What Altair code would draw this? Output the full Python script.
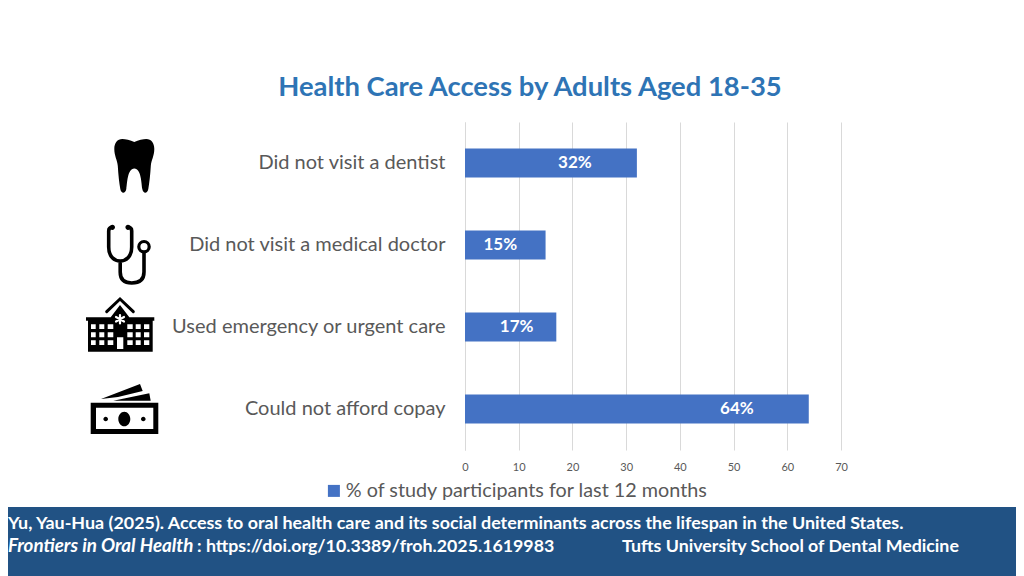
import altair as alt
import pandas as pd

# ---- data ----
categories = ["Did not visit a dentist", "Did not visit a medical doctor",
              "Used emergency or urgent care", "Could not afford copay"]
values = [32, 15, 17, 64]
value_labels = ["32%", "15%", "17%", "64%"]
series_name = "% of study participants for last 12 months"
x_ticks = [0, 10, 20, 30, 40, 50, 60, 70]
title_text = "Health Care Access by Adults Aged 18-35"
citation_line = "Yu, Yau-Hua (2025). Access to oral health care and its social determinants across the lifespan in the United States."
journal_text = "Frontiers in Oral Health"
doi_text = ": https://doi.org/10.3389/froh.2025.1619983"
school_text = "Tufts University School of Dental Medicine"

FONT = "Lato"
GREY = "#595959"
BLUE = "#4472C4"
TITLE_BLUE = "#2E74B5"
BAND = "#215284"

OX, OY = 465, 122   # plot origin on the page
W, H = 376, 328
SVG_W, SVG_H = 1008, 568

df = pd.DataFrame({"category": categories, "value": values,
                   "label": value_labels, "series": series_name})


def px(x):  # page px -> plot px
    return alt.value(x - OX)


def py(y):
    return alt.value(y - OY)


def rect(x0, x1, y0, y1):
    return f"M{x0},{y0}L{x1},{y0}L{x1},{y1}L{x0},{y1}Z"


def circle(cx, cy, r):
    return f"M{cx+r},{cy}A{r},{r} 0 1 0 {cx-r},{cy}A{r},{r} 0 1 0 {cx+r},{cy}Z"


def ellipse(cx, cy, rx, ry):
    return f"M{cx+rx},{cy}A{rx},{ry} 0 1 0 {cx-rx},{cy}A{rx},{ry} 0 1 0 {cx+rx},{cy}Z"


# Icon outlines, in px around the icon's centre
tooth = ("M0,-24C-4,-26 -9,-27 -12,-27C-17,-27 -20,-23 -20,-17C-20,-10 -17,-6 -16.5,0"
         "C-16,9 -15,17 -14,23C-13,28 -9,28 -8,23C-7,17 -7,3 0,2.5C7,3 7,17 8,23"
         "C9,28 13,28 14,23C15,17 16,9 16.5,0C17,-6 20,-10 20,-17C20,-23 17,-27 12,-27"
         "C9,-27 4,-26 0,-24Z")
steth_tube = ("M-14.3,-27.7Q-18,-27.7 -18,-24L-18,-8C-18,2 -12,6 -6.5,6C-1,6 5,2 5,-8"
              "L5,-24Q5,-27.7 1.3,-27.7M-6.5,6L-6.5,17C-6.5,25 -2,28 5,28C12,28 17.3,25 17.3,17L17.3,-2")
steth_head = circle(17.3, -8.3, 5.2)
steth_dots = circle(-14.3, -27.7, 2.6) + circle(1.3, -27.7, 2.6)
hospital_black = (rect(-32, 32.7, -6, 26.7) + rect(-34, 34.3, -7.7, -4.3)
                  + "M-9.3,-7.7L0,-20L9.3,-7.7Z")
hospital_roof = "M-13.3,-13.3L0,-26L13.3,-13.3"
win_x = [(-29, -24.3), (-20.7, -15.7), (-12.3, -6.7), (7.3, 12.7), (15.7, 20.7), (24, 29.3)]
win_y = [(-0.7, 4), (7.3, 12.3), (15.3, 20)]
hospital_white = "".join(rect(a, b, c, d) for a, b in win_x for c, d in win_y) + rect(-3, 3.3, 12.3, 24)
hospital_star = "M0,-10L0,-1.5M-4,-8L4,-3.5M4,-8L-4,-3.5"
money_black = (rect(-34.3, 33.3, -12.3, 19) + "M-24,-16L15,-31L17.7,-24L-7,-18Z"
               + "M-11.7,-14.3L24.3,-21.7L25.7,-14.3Z")
money_white = rect(-29, 28.3, -7.3, 14)
money_marks = ellipse(-0.7, 4, 6, 7.3) + circle(-19.3, 4, 2.3) + circle(18.3, 4, 2.3)


def icon(path, cx, cy, fill=None, stroke=None, sw=0):
    kw = {"shape": path, "size": 4, "opacity": 1}
    if fill:
        kw.update(filled=True, fill=fill, strokeWidth=0)
    else:
        kw.update(filled=False, stroke=stroke, strokeWidth=sw, fillOpacity=0, strokeCap="round")
    return alt.Chart(df.head(1)).mark_point(**kw).encode(x=px(cx), y=py(cy))


icons = [
    icon(tooth, 134.3, 166, fill="black"),
    icon(steth_tube, 126.7, 255, stroke="black", sw=3.6),
    icon(steth_head, 126.7, 255, stroke="black", sw=3.2),
    icon(steth_dots, 126.7, 255, fill="black"),
    icon(hospital_roof, 120, 325, stroke="black", sw=3),
    icon(hospital_black, 120, 325, fill="black"),
    icon(hospital_white, 120, 325, fill="white"),
    icon(hospital_star, 120, 325, stroke="white", sw=2.2),
    icon(money_black, 125, 415, fill="black"),
    icon(money_white, 125, 415, fill="white"),
    icon(money_marks, 125, 415, fill="black"),
]

x_enc = alt.X("value:Q", scale=alt.Scale(domain=[0, 70], nice=False),
              axis=alt.Axis(values=x_ticks, title=None, grid=True, gridColor="#D9D9D9", gridWidth=1,
                            domain=False, ticks=False, labelFont=FONT, labelFontSize=11,
                            labelColor=GREY, labelPadding=11, labelFlush=False))
y_enc = alt.Y("category:N", sort=categories,
              scale=alt.Scale(paddingInner=0.646, paddingOuter=0.323),
              axis=alt.Axis(title=None, ticks=False, domain=True, domainColor="#D9D9D9",
                            labelFont=FONT, labelFontSize=20, labelColor=GREY, labelPadding=20,
                            labelLimit=400))

bars = alt.Chart(df).mark_bar(color=BLUE).encode(
    x=x_enc, y=y_enc,
    color=alt.Color("series:N", scale=alt.Scale(range=[BLUE]),
                    legend=alt.Legend(title=None, orient="none", legendX=324 - OX, legendY=481 - OY,
                                      symbolType="square", symbolSize=144, symbolStrokeWidth=0,
                                      labelFont=FONT, labelFontSize=19.8, labelColor=GREY,
                                      labelLimit=500, symbolOffset=0, labelOffset=2)),
)

# Value labels sit at hand-placed spots inside each bar, as in the slide
label_shift = {"Did not visit a dentist": 24, "Did not visit a medical doctor": -5,
               "Used emergency or urgent care": 6, "Could not afford copay": 100}
labels = [
    alt.Chart(df[df.category == c]).mark_text(color="white", font=FONT, fontSize=17, fontWeight="bold", dx=d)
    .encode(x=alt.X("mid:Q"), y=alt.Y("category:N", sort=categories), text="label:N")
    .transform_calculate(mid="datum.value / 2")
    for c, d in label_shift.items()
]


def txt(s, x, y, **kw):
    opts = dict(font=FONT, align="left", baseline="alphabetic")
    opts.update(kw)
    return alt.Chart(pd.DataFrame({"t": [s]})).mark_text(**opts).encode(
        x=px(x), y=py(y), text="t:N")


band = alt.Chart(df.head(1)).mark_rect(color=BAND).encode(
    x=px(0), x2=px(1040), y=py(507), y2=py(590))

texts = [
    txt(title_text, 530, 96, align="center", fontSize=27.4, fontWeight="bold", color=TITLE_BLUE),
    txt(citation_line, 8, 529, fontSize=17.9, fontWeight="bold", color="white"),
    txt(journal_text, 8, 552, fontSize=18.8, fontWeight="bold", fontStyle="italic", color="white"),
    txt(doi_text, 197, 552, fontSize=17.75, fontWeight="bold", color="white"),
    txt(school_text, 622, 552, fontSize=17.8, fontWeight="bold", color="white"),
]

chart = alt.layer(bars, *labels, band, *icons, *texts).properties(
    width=W, height=H,
    padding={"left": OX - 8, "top": OY - 8, "right": SVG_W - (OX - 8) - W, "bottom": SVG_H - (OY - 8) - H},
    autosize=alt.AutoSizeParams(type="none"),
    background="white",
).resolve_scale(x="shared", y="shared").configure_view(stroke=None)

chart.save("out.html", embed_options={"renderer": "svg", "actions": False})
